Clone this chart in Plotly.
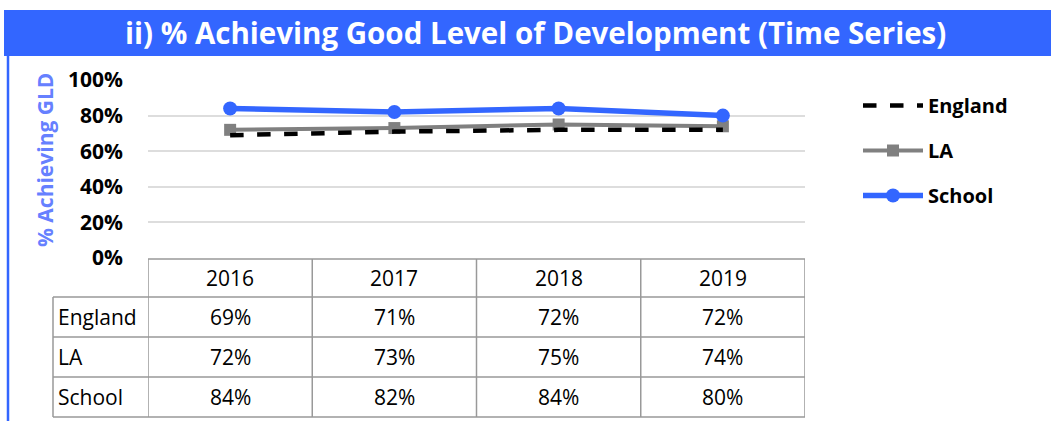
import plotly.graph_objects as go

years = ["2016", "2017", "2018", "2019"]
england = [69, 71, 72, 72]
la = [72, 73, 75, 74]
school = [84, 82, 84, 80]
series_names = ["England", "LA", "School"]
y_ticks = [0, 20, 40, 60, 80, 100]
title_text = "ii) % Achieving Good Level of Development (Time Series)"
y_title = "% Achieving GLD"

W, H = 1051, 421
L, R, T, B = 148, 246, 80, 163
PW = W - L - R
PH = H - T - B


def px_x(p):
    return (p - L) / PW


def px_y(p):
    return (H - B - p) / PH


BLUE = "#3366FF"
GRAY = "#808080"
FONT = "Open Sans"

fig = go.Figure()
fig.add_trace(go.Scatter(
    x=years, y=la, name="<b>LA</b>", mode="lines+markers",
    line=dict(color=GRAY, width=4),
    marker=dict(symbol="square", size=12, color=GRAY),
    legendgroup="b", legendrank=2))
fig.add_trace(go.Scatter(
    x=years, y=england, name="<b>England</b>", mode="lines",
    line=dict(color="black", width=4.5, dash="dash"),
    legendgroup="a", legendrank=1))
fig.add_trace(go.Scatter(
    x=years, y=school, name="<b>School</b>", mode="lines+markers",
    line=dict(color=BLUE, width=5.5),
    marker=dict(symbol="circle", size=14, color=BLUE),
    legendgroup="c", legendrank=3))

shapes = []
annotations = []

# title bar
shapes.append(dict(type="rect", xref="paper", yref="paper",
                   x0=px_x(4), x1=px_x(W + 5), y0=px_y(56), y1=px_y(10),
                   fillcolor=BLUE, line=dict(width=0), layer="below"))
annotations.append(dict(text="<b>" + title_text + "</b>", xref="paper", yref="paper",
                        x=px_x(535), y=px_y(33), showarrow=False,
                        font=dict(family=FONT, size=29.5, color="white"),
                        xanchor="center", yanchor="middle"))
# left border
shapes.append(dict(type="line", xref="paper", yref="paper",
                   x0=px_x(8), x1=px_x(8), y0=px_y(56), y1=px_y(H + 5),
                   line=dict(color=BLUE, width=2.5)))
# y title
annotations.append(dict(text="<b>" + y_title + "</b>", xref="paper", yref="paper",
                        x=px_x(45), y=px_y(160), showarrow=False, textangle=-90,
                        font=dict(family=FONT, size=21, color="#6680FF"),
                        xanchor="center", yanchor="middle"))

# data table
TL = dict(color="#999999", width=1.5)
row_edges = [259, 297, 337, 377, 417]
left_px = 53
n = len(years)
for i in range(n + 1):
    shapes.append(dict(type="line", xref="x", yref="paper",
                       x0=i - 0.5, x1=i - 0.5, y0=px_y(row_edges[0]), y1=px_y(row_edges[-1]),
                       line=TL))
shapes.append(dict(type="line", xref="paper", yref="paper",
                   x0=px_x(left_px), x1=px_x(left_px), y0=px_y(row_edges[1]), y1=px_y(row_edges[-1]),
                   line=TL))
shapes.append(dict(type="line", xref="x", yref="paper",
                   x0=-0.5, x1=n - 0.5, y0=px_y(row_edges[0]), y1=px_y(row_edges[0]),
                   line=TL))
for r in row_edges[1:]:
    shapes.append(dict(type="line", xref="paper", yref="paper",
                       x0=px_x(left_px), x1=1, y0=px_y(r), y1=px_y(r), line=TL))

cell_font = dict(family=FONT, size=21, color="black")
for i, yr in enumerate(years):
    annotations.append(dict(text=yr, xref="x", yref="paper", x=i,
                            y=px_y((row_edges[0] + row_edges[1]) / 2), showarrow=False,
                            font=cell_font, xanchor="center", yanchor="middle"))
for k, (nm, vals) in enumerate(zip(series_names, [england, la, school])):
    yc = px_y((row_edges[k + 1] + row_edges[k + 2]) / 2)
    annotations.append(dict(text=nm, xref="paper", yref="paper", x=px_x(56), y=yc,
                            showarrow=False, font=cell_font, xanchor="left", yanchor="middle"))
    for i, v in enumerate(vals):
        annotations.append(dict(text=f"{v}%", xref="x", yref="paper", x=i, y=yc,
                                showarrow=False, font=cell_font,
                                xanchor="center", yanchor="middle"))

fig.update_layout(
    width=W, height=H,
    margin=dict(l=L, r=R, t=T, b=B, pad=0),
    paper_bgcolor="white", plot_bgcolor="white",
    showlegend=True,
    legend=dict(x=px_x(858), y=px_y(86), xanchor="left", yanchor="top",
                font=dict(family=FONT, size=20, color="black"),
                tracegroupgap=16, itemwidth=60, bgcolor="rgba(0,0,0,0)"),
    xaxis=dict(type="category", range=[-0.5, n - 0.5], showticklabels=False,
               showgrid=False, zeroline=False, showline=False, fixedrange=True),
    yaxis=dict(range=[0, 100], tickvals=y_ticks, ticktext=[f"<b>{t}%</b>" for t in y_ticks],
               showgrid=True, gridcolor="#DDDDDD", gridwidth=1.5, zeroline=False,
               showline=False, ticks="", ticklabelstandoff=24,
               tickfont=dict(family=FONT, size=21, color="black")),
    shapes=shapes, annotations=annotations,
    font=dict(family=FONT),
)

fig.write_html("out.html", config={"displayModeBar": False},
               post_script="document.body.style.margin='0';")
